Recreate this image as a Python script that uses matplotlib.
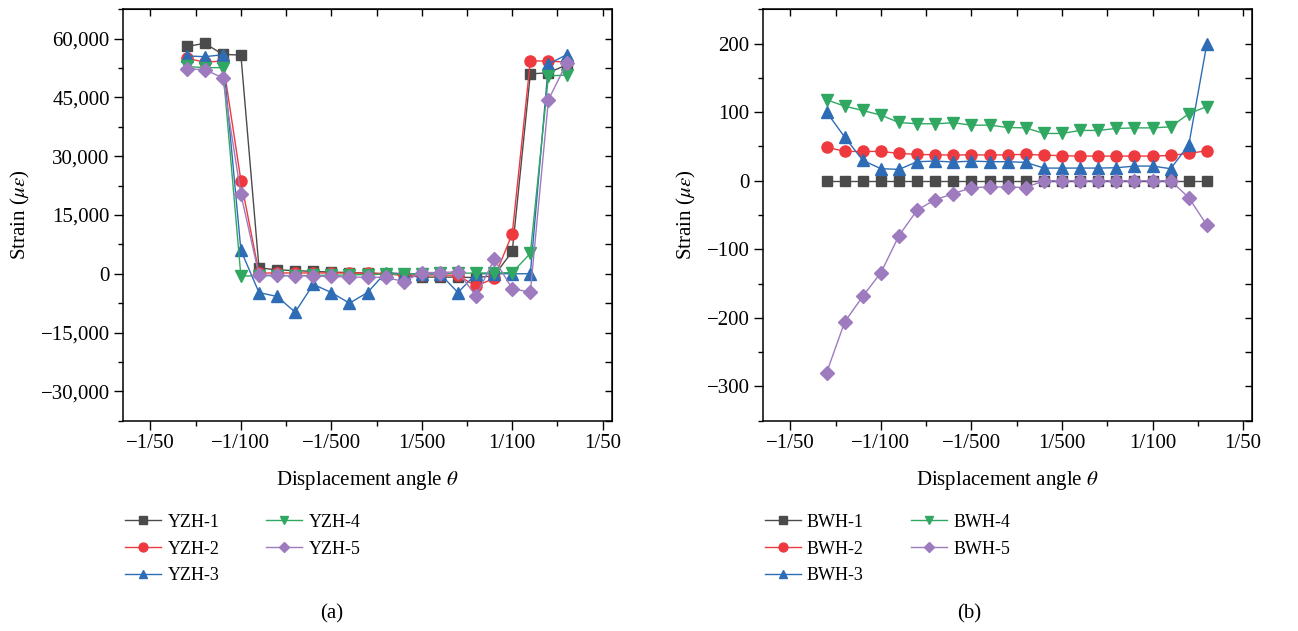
import numpy as np
import matplotlib.pyplot as plt
from matplotlib.ticker import MultipleLocator

plt.rcParams['font.family'] = ['Liberation Serif', 'DejaVu Serif']
plt.rcParams['mathtext.fontset'] = 'stix'

# load steps (index along the displacement-angle axis)
steps = np.arange(2, 24)
tick_pos = [0, 5, 10, 15, 20, 25]
tick_labels = ['\u22121/50', '\u22121/100', '\u22121/500', '1/500', '1/100', '1/50']

yzh1 = [58000, 58800, 56000, 55800, 1500, 1000, 800, 600, 430, 300, 200, 0,
        -400, -850, -850, -850, -1000, -500, 5700, 51000, 51300, 53300]
yzh2 = [55000, 54000, 54300, 23800, 170, 200, 200, 200, 200, 200, 150, 0,
        -300, -300, -300, -400, -3200, -1100, 10200, 54300, 54300, 54000]
yzh3 = [55600, 55400, 55900, 6000, -4800, -5800, -9800, -2700, -4800, -7500, -4800, 300,
        0, 0, 0, -4800, 0, 0, 0, 0, 53500, 55900]
yzh4 = [52900, 52600, 52600, -600, -500, -500, -500, -400, -400, -300, -200, -100,
        0, 0, 100, 100, 200, 200, 300, 5200, 50500, 50700]
yzh5 = [52300, 52100, 50000, 20300, -300, -400, -500, -600, -700, -850, -900, -900,
        -2000, 300, 300, 500, -5700, 3700, -3800, -4700, 44400, 53700]

bwh1 = [0] * 22
bwh2 = [49, 42.7, 42.7, 42.7, 39.8, 38.3, 37.8, 37.4, 37.8, 37.4, 37.8, 38.3,
        37.4, 36.4, 35.9, 35.9, 35.9, 35.9, 35.9, 36.9, 39.8, 43.7]
bwh3 = [100, 63.5, 29.6, 17.5, 16.5, 27.7, 28.6, 27.2, 28.6, 27.7, 27.7, 26.7,
        18.4, 18.4, 18.4, 18.4, 18.9, 21.3, 21.3, 17.5, 52.4, 200]
bwh4 = [118, 108.7, 102.4, 95.6, 84.9, 83, 83, 84.5, 81, 81, 77.6, 77,
        68.9, 68.9, 73.3, 73.3, 76.2, 77, 77, 78.6, 97.6, 108.2]
bwh5 = [-280, -206, -168.5, -134, -80, -42.8, -27.7, -19, -10, -9.2, -9.2, -10,
        0, 0, 0, 0, 0, 0, 0, 0, -24.8, -65]

colors = ['#4b4b4b', '#ee3a3f', '#2e6db6', '#30a862', '#9e7bbf']
markers = ['s', 'o', '^', 'v', 'D']
msizes = [7.5, 8, 8, 8, 7]


def style_axes(ax, ylim, ymajor, yticks, ylabels):
    ax.set_xlim(-1.5, 25.5)
    ax.set_ylim(*ylim)
    ax.set_xticks(tick_pos)
    ax.set_xticklabels(tick_labels)
    ax.xaxis.set_minor_locator(MultipleLocator(2.5))
    ax.set_yticks(yticks)
    ax.set_yticklabels(ylabels)
    ax.yaxis.set_minor_locator(MultipleLocator(ymajor / 2))
    ax.tick_params(which='major', direction='out', length=6.3, width=1, labelsize=15)
    ax.tick_params(which='minor', direction='out', length=3.3, width=1)
    for s in ax.spines.values():
        s.set_linewidth(1.1)
    # mirrored ticks pointing inward on top and right
    top = ax.secondary_xaxis('top')
    top.set_xticks(tick_pos)
    top.xaxis.set_minor_locator(MultipleLocator(2.5))
    top.tick_params(which='both', direction='in', length=5, width=1, labeltop=False)
    right = ax.secondary_yaxis('right')
    right.set_yticks(yticks)
    right.yaxis.set_minor_locator(MultipleLocator(ymajor / 2))
    right.tick_params(which='both', direction='in', length=5, width=1, labelright=False)
    ax.set_xlabel(r'Displacement angle $\theta$', fontsize=15, labelpad=11)
    ax.set_ylabel(r'Strain ($\mu\varepsilon$)', fontsize=15, labelpad=6)


fig = plt.figure(figsize=(12.98, 6.31), dpi=100)
ax1 = fig.add_axes([0.095, 0.3333, 0.3763, 0.652])
ax2 = fig.add_axes([0.588, 0.3333, 0.3767, 0.652])

for ax, series, prefix in [(ax1, [yzh1, yzh2, yzh3, yzh4, yzh5], 'YZH'),
                           (ax2, [bwh1, bwh2, bwh3, bwh4, bwh5], 'BWH')]:
    for i, ys in enumerate(series):
        ax.plot(steps, ys, color=colors[i], marker=markers[i], markersize=msizes[i],
                linewidth=1, label='%s-%d' % (prefix, i + 1))

ticks_a = [-30000, -15000, 0, 15000, 30000, 45000, 60000]
labels_a = ['\u221230,000', '\u221215,000', '0', '15,000', '30,000', '45,000', '60,000']
style_axes(ax1, (-37500, 67500), 15000, ticks_a, labels_a)

ticks_b = [-300, -200, -100, 0, 100, 200]
labels_b = ['\u2212300', '\u2212200', '\u2212100', '0', '100', '200']
style_axes(ax2, (-350, 250), 100, ticks_b, labels_b)

for ax, x0 in [(ax1, 0.0963), (ax2, 0.589)]:
    ax.legend(loc='upper left', bbox_to_anchor=(x0, 0.186), bbox_transform=fig.transFigure,
              ncol=2, frameon=False, fontsize=13, handlelength=2.0, handletextpad=0.35,
              labelspacing=0.55, columnspacing=2.6, borderpad=0, borderaxespad=0,
              markerscale=0.8)

fig.text(0.2555, 0.02, '(a)', ha='center', fontsize=15)
fig.text(0.7470, 0.02, '(b)', ha='center', fontsize=15)

fig.savefig('out.png', dpi=100)
